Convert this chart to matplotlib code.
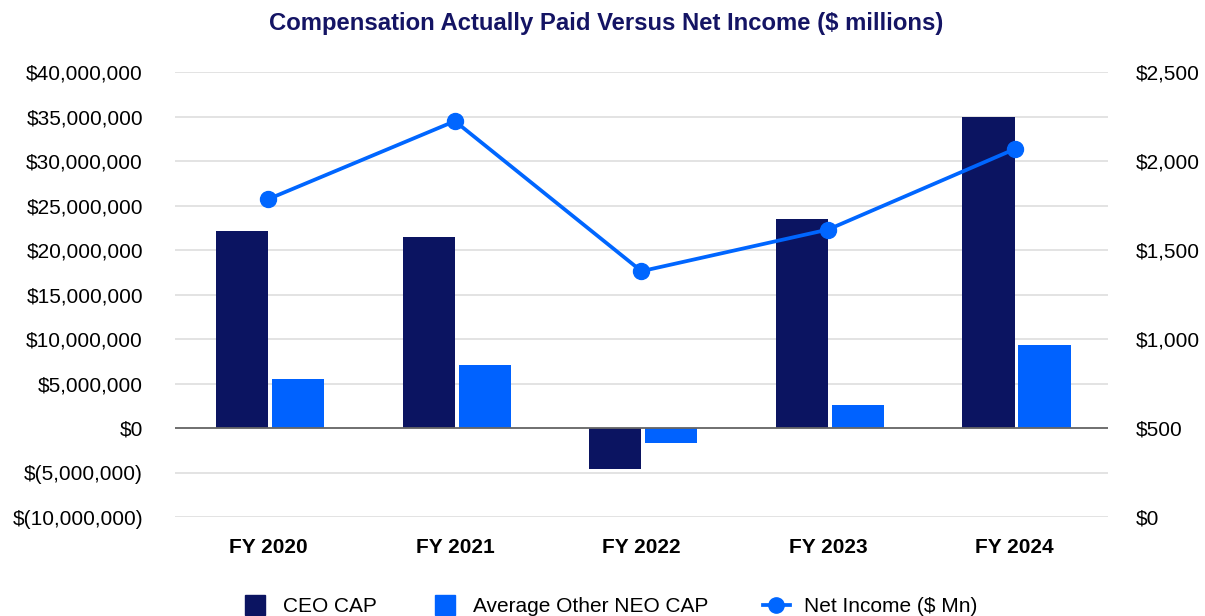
import matplotlib
matplotlib.use("Agg")
import matplotlib.pyplot as plt
from matplotlib.lines import Line2D
from matplotlib.ticker import FuncFormatter
import numpy as np

plt.rcParams['font.family'] = ['Liberation Sans', 'DejaVu Sans']

categories = ["FY 2020", "FY 2021", "FY 2022", "FY 2023", "FY 2024"]
ceo_cap = [22.13e6, 21.45e6, -4.64e6, 23.48e6, 34.97e6]
neo_cap = [5.46e6, 7.04e6, -1.71e6, 2.53e6, 9.29e6]
net_income = [1786, 2224, 1381, 1615, 2067]

navy = "#0b1461"
blue = "#0062ff"
line_blue = "#0066ff"

fig = plt.figure(figsize=(12.05, 6.16), dpi=100)
ax = fig.add_axes([0.1452, 0.1607, 0.7743, 0.7224])
ax2 = ax.twinx()

x = np.arange(len(categories))
w = 0.28
ax.bar(x - 0.14, ceo_cap, width=w, color=navy, zorder=3)
ax.bar(x + 0.16, neo_cap, width=w, color=blue, zorder=3)

ax2.plot(x, net_income, color=line_blue, lw=2.7, marker='o', markersize=11.5, zorder=4)

ax.set_xlim(-0.5, len(categories) - 0.5)
ax.set_ylim(-10e6, 40e6)
ax.set_yticks(np.arange(-10e6, 40e6 + 1, 5e6))
ax2.set_ylim(0, 2500)
ax2.set_yticks(np.arange(0, 2501, 500))

def left_fmt(v, pos):
    v = int(round(v))
    if v < 0:
        return "$({:,})".format(-v)
    return "${:,}".format(v)

ax.yaxis.set_major_formatter(FuncFormatter(left_fmt))
ax2.yaxis.set_major_formatter(FuncFormatter(lambda v, p: "${:,}".format(int(round(v)))))

ax.grid(axis='y', color='#e3e3e3', lw=1.4, zorder=0)
ax.axhline(0, color='#666666', lw=1.3, zorder=4)

for a in (ax, ax2):
    for s in a.spines.values():
        s.set_visible(False)
    a.tick_params(length=0, labelsize=15, colors='black')

ax.tick_params(axis='y', pad=23)
ax2.tick_params(axis='y', pad=20)
ax.set_xticks(x)
ax.set_xticklabels(categories, fontweight='bold', fontsize=15)
ax.tick_params(axis='x', pad=15)

fig.text(0.503, 0.962, "Compensation Actually Paid Versus Net Income ($ millions)",
         ha='center', va='center', fontsize=17.2, fontweight='bold', color='#141464')

handles = [
    Line2D([], [], marker='s', color=navy, linestyle='none', markersize=15),
    Line2D([], [], marker='s', color=blue, linestyle='none', markersize=15),
    Line2D([], [], marker='o', color=line_blue, lw=2.7, markersize=11),
]
labels = ["CEO CAP", "Average Other NEO CAP", "Net Income ($ Mn)"]
fig.legend(handles, labels, loc='center', bbox_to_anchor=(0.506, 0.015), ncol=3,
           frameon=False, fontsize=15, handlelength=1.3, handletextpad=0.7,
           columnspacing=2.6)

fig.savefig("out.png", dpi=100)
